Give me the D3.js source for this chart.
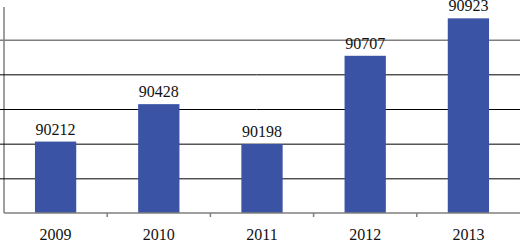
<!DOCTYPE html>
<html lang="en">
<head>
    <meta charset="UTF-8">
    <title>Bar chart 2009-2013</title>
    <script src="https://cdn.jsdelivr.net/npm/d3@7"></script>
    <style>
        body{
            margin: 0;
            background: #fff;
        }
        svg{
            display: block;
        }
        .bar{
            fill: #3a53a4;
        }
        .xaxis path, .xaxis line{
            stroke: #7f7f7f;
            stroke-width: 1.5px;
        }
    </style>
</head>
<body>
    <script>
        // data
        const years = ["2009", "2010", "2011", "2012", "2013"];
        const values = [90212, 90428, 90198, 90707, 90923];
        const yTicks = [89800, 90000, 90200, 90400, 90600, 90800, 91000];

        const width = 520;
        const height = 241;
        const margins = {top: 5, bottom: 28, left: 4, right: 0};
        const baseY = height - margins.bottom;
        const serif = "'Liberation Serif', 'Times New Roman', Times, 'DejaVu Serif', serif";

        let svg = d3.select("body").append("svg")
            .attr("width", width)
            .attr("height", height);

        let xScale = d3.scaleBand()
            .domain(years)
            .range([margins.left, width - margins.right])
            .paddingInner(0.6)
            .paddingOuter(0.3);

        let yScale = d3.scaleLinear()
            .domain([yTicks[0], yTicks[yTicks.length - 1]])
            .range([baseY, margins.top]);

        // gridlines (drawn through the left axis)
        const grid = svg.append("g")
            .attr("class", "grid")
            .attr("transform", `translate(${margins.left},0)`)
            .call(d3.axisLeft(yScale)
                .tickValues(yTicks.slice(1, -1))
                .tickSizeInner(-(width - margins.left))
                .tickSizeOuter(0)
                .tickFormat(""));
        grid.selectAll(".tick line")
            .attr("x1", -margins.left)
            .attr("stroke", d => d === 90800 ? "#7f7f7f" : "#000")
            .attr("stroke-width", d => d === 90800 ? 1.5 : 1);
        grid.select(".domain")
            .attr("stroke", "#7f7f7f")
            .attr("stroke-width", 1.5)
            .attr("d", `M0,${yScale(yTicks[yTicks.length - 1]) + 2}V${baseY}`);

        // bars
        svg.selectAll(".bar")
            .data(years)
            .enter()
            .append("rect")
            .attr("class", "bar")
            .attr("x", d => xScale(d))
            .attr("width", xScale.bandwidth())
            .attr("y", (d, i) => yScale(values[i]))
            .attr("height", (d, i) => baseY - yScale(values[i]));

        // value labels
        svg.selectAll(".vlabel")
            .data(years)
            .enter()
            .append("text")
            .attr("class", "vlabel")
            .attr("text-anchor", "middle")
            .attr("x", d => xScale(d) + xScale.bandwidth() / 2)
            .attr("y", (d, i) => yScale(values[i]) - 7)
            .style("font-family", serif)
            .style("font-size", "16px")
            .style("fill", "#111")
            .text((d, i) => values[i]);

        // x axis with tick marks between categories
        const step = xScale.step();
        const xAxis = svg.append("g")
            .attr("class", "xaxis")
            .attr("transform", `translate(0,${baseY})`);
        xAxis.append("path")
            .attr("d", `M${margins.left},0H${width}`);
        xAxis.selectAll("line")
            .data(years.slice(1))
            .enter()
            .append("line")
            .attr("x1", (d, i) => margins.left + step * (i + 1))
            .attr("x2", (d, i) => margins.left + step * (i + 1))
            .attr("y1", 0)
            .attr("y2", 4);
        xAxis.selectAll("text")
            .data(years)
            .enter()
            .append("text")
            .attr("text-anchor", "middle")
            .attr("x", d => xScale(d) + xScale.bandwidth() / 2)
            .attr("y", 26.5)
            .style("font-family", serif)
            .style("font-size", "16px")
            .style("fill", "#111")
            .text(d => d);
    </script>
</body>
</html>
